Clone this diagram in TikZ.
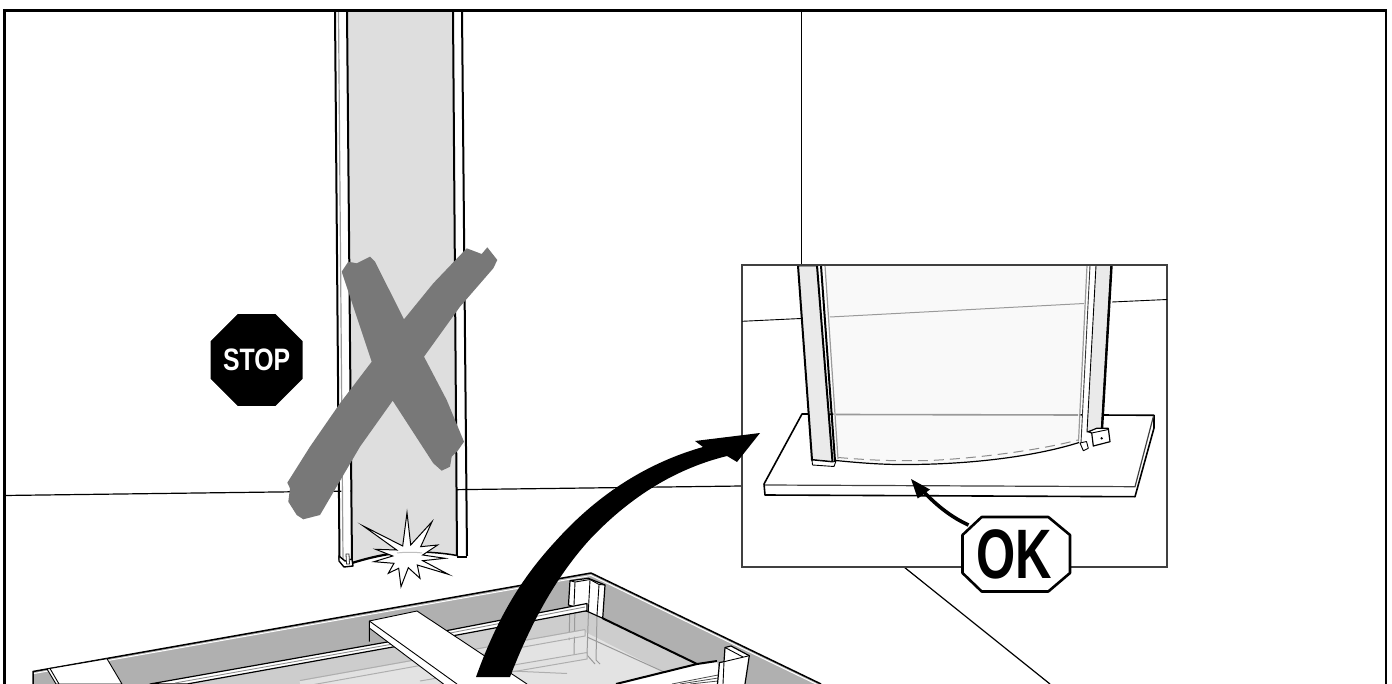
\documentclass[tikz,border=0pt]{standalone}
\usepackage{fontspec}
\setmainfont{Liberation Sans}
\usetikzlibrary{shapes.geometric}
\definecolor{tray}{HTML}{B0B0B0}
\definecolor{floorA}{HTML}{CDCDCD}
\definecolor{floorB}{HTML}{E3E3E3}
\definecolor{xgray}{HTML}{787878}
\definecolor{facegray}{HTML}{EAEAEA}
\definecolor{panelgray}{HTML}{F9F9F9}
\definecolor{linegray}{HTML}{9A9A9A}
\tikzset{
  ln/.style={draw=black,line width=1.2pt,line join=round},
  thk/.style={draw=black,line width=2pt,line join=round},
  fine/.style={draw=black,line width=.9pt,line join=round},
  ghost/.style={draw=linegray,line width=1pt},
  glassrail/.style={draw=floorA!60!white,line width=4.5pt},
  glassedge/.style={draw=linegray!80!white,line width=1pt},
  octagon/.style={regular polygon,regular polygon sides=8,inner sep=0pt,outer sep=0pt},
}
\begin{document}
\begin{tikzpicture}[x=1pt,y=-1pt]
\useasboundingbox (0,0) rectangle (1392,684);
\fill[white] (0,0) rectangle (1392,684);
% room lines
\draw[ln] (4,495.5) -- (742,486);
\draw[fine] (801,10) -- (801,265);
\draw[ln] (904,567) -- (1050,684);
% column
\shade[left color=black!13,middle color=white,right color=black!13]
  (347,11) -- (453,11) -- (457,555) .. controls (430,551) and (395,550) .. (353,563) -- cycle;
\fill[white] (338,11) -- (346,11) -- (351,560) -- (342,562) -- cycle;
\draw[thk] (335,11) -- (339.5,560);
\draw[draw=linegray,line width=1.2pt] (338.5,11) -- (343,560);
\draw[thk] (347,11) -- (352,563);
\draw[thk] (453,11) -- (457,556);
\draw[thk] (462,11) -- (467,556);
\draw[thk] (457,556.5) -- (467,556.5);
\draw[line width=2.2pt] (352,563) .. controls (368,558) and (385,554) .. (402,552.5);
\draw[draw=black,line width=1.5pt] (422,552) .. controls (435,552.5) and (446,553.5) .. (457,555.5);
\filldraw[fill=white,draw=black,line width=1.4pt,line join=round] (339,556) -- (339,561) -- (344,567) -- (353,566) -- (352,559) -- (345,561) -- cycle;
\filldraw[fill=white,draw=black!80,line width=.8pt] (346,554) -- (349,554) -- (349.5,564) -- (346.5,564) -- cycle;
% impact star
\filldraw[fill=white,draw=black,line width=1pt,miter limit=20] (407,512.7) -- (410.7,545) -- (432,521.7) -- (420.7,546.7) -- (437.7,545) -- (422.7,555) -- (445,558.3) -- (422.7,560.7) -- (448.3,574.3) -- (417.3,565) -- (420,578.3) -- (408.3,567.7) -- (401,586.7) -- (398.7,568.3) -- (388.3,573.3) -- (394,563.3) -- (374,561.7) -- (392.7,556) -- (375.7,549.3) -- (396.7,550) -- (363.3,526) -- (402.7,546) -- cycle;
\draw[black!25,line width=1pt] (397,553) .. controls (405,552) and (415,552) .. (422,553);
% tray
\filldraw[fill=tray,draw=black,line width=1.5pt,line join=round] (33,684) -- (33,671.5) -- (591,573) -- (821,684);
\draw[white,line width=1pt] (34,673.5) -- (591,575.5) -- (817,684.5);
\filldraw[fill=white,fine] (47,669) -- (107,658.7) -- (122,684) -- (56,684) -- cycle;
\draw[fine] (50,668.5) -- (59,684);
% tray floor
\fill[floorA] (187,684) -- (393,647) -- (587,611) -- (697,664) -- (617,684) -- cycle;
\fill[floorB] (300,684) -- (585,632) -- (664,672) -- (617,684) -- cycle;
% views through the glass
\draw[ghost] (570,605) -- (569,640);
\draw[ghost] (575,605) -- (574,655);
\draw[ghost] (588.5,611) -- (587,655) -- (595,664);
\draw[ghost] (597,615) -- (596,660) -- (600,664);
\draw[ghost] (587,637) -- (664,672);
\draw[glassedge] (511,671) -- (567,673.5);
\draw[glassrail] (300,683.5) -- (585,632.5);
\draw[glassedge] (585,629.5) -- (585,636) -- (300,687);
\draw[glassedge] (300,680.5) -- (585,629.5);
\draw[glassrail] (420,684) -- (587,655.5);
\draw[glassedge] (420,681) -- (587,652.5) -- (587,659) -- (430,686);
% back post
\filldraw[fill=white,ln] (568.5,605) -- (570,580.7) -- (588.3,578.3) -- (605,585) -- (602.7,618.3) -- (588,611.7) -- cycle;
\draw[fine] (570,580.7) -- (575,582) -- (590,579.5) -- (599,584.5) -- (605,585);
\draw[fine] (575,582) -- (574,605);
\draw[fine] (590,580) -- (588.3,611.7);
\draw[fine] (599,585) -- (597,615);
% rails
\filldraw[fill=white,ln] (150,684) -- (393,641) -- (587,603.5) -- (587,610.7) -- (393,647) -- (187,684) -- cycle;
\draw[black!45,line width=.9pt] (175,683) -- (393,644) -- (585,607);
% floor edge
\draw[thk] (602.7,618.3) -- (697,664);
% front right board
\fill[white] (617,684) -- (697,664) -- (717,661) -- (722,684) -- cycle;
\draw[line width=2pt] (616,684) -- (697,664) -- (717,661);
\draw[black!70,line width=.8pt] (672,684) -- (718,675);
\draw[black!70,line width=.8pt] (680,684) -- (718,678);
\draw[black!70,line width=.8pt] (690,684) -- (718,681);
% front right post
\filldraw[fill=white,ln] (717.5,684) -- (719.5,662.5) -- (724,661.7) -- (725,647.5) -- (731,646) -- (749.3,655.7) -- (745,684);
\draw[fine] (724,661.7) -- (749.3,655.7);
\draw[fine] (724,661.7) -- (723,684);
\draw[fine] (725,647.5) -- (743,657);
% central board
\fill[white] (369.3,621) -- (417,611) -- (527,684) -- (443,684) -- (369.3,628) -- cycle;
\draw[fine] (369.3,641.5) -- (369.3,621) -- (417,611) -- (527,684);
\draw[fine] (369.3,621) -- (457,684);
\draw[fine] (369.3,628) -- (443.5,684);
% inset
\filldraw[fill=white,draw=black!75,line width=1.2pt] (742,265) rectangle (1167,567);
\draw[fine] (742,321.3) -- (801,318.5);
\draw[fine] (1112,302) -- (1167,299.5);
% shelf
\filldraw[fill=white,thk,line width=1.6pt] (802,414) -- (764,484) -- (765,495) -- (1135,496.7) -- (1154,428) -- (1154,415.3) -- (1100,415) -- cycle;
\draw[draw=black!75,line width=1.2pt] (765,485) -- (1135,486.7) -- (1153.5,416);
% panel
\fill[panelgray] (825,265.5) -- (1088,265.5) -- (1079,442.5) .. controls (1040,455) and (975,465) .. (900,464.5) .. controls (880,464) and (855,462) .. (836,460) -- cycle;
\draw[draw=linegray,line width=1pt] (830,317) -- (1084,303.5);
\draw[draw=linegray,line width=1.6pt] (836,414.5) -- (1078,415);
\draw[draw=black!45,line width=1pt,dash pattern=on 10pt off 6pt] (838,457.5) .. controls (880,461) and (900,461) .. (930,460.5) .. controls (980,458) and (1040,450) .. (1078,440);
\draw[ln] (836,460.5) .. controls (855,462.5) and (880,464.5) .. (900,464.5) .. controls (975,465) and (1040,455) .. (1079,442.5);
% left inset post
\filldraw[fill=facegray,thk] (798,265.5) -- (817,265.5) -- (832.5,462) -- (812,460) -- cycle;
\draw[thk] (821,265.5) -- (835,461);
\draw[draw=linegray,line width=1.2pt] (825,265.5) -- (838,459);
\draw[fine,fill=white] (812,460) -- (812.5,465) -- (834,466.5) -- (836,461) -- (832.5,462) -- cycle;
% right inset post
\fill[white] (1090,265.5) -- (1096,265.5) -- (1087,432) -- (1081,443) -- cycle;
\draw[draw=linegray,line width=1.2pt] (1087,265.5) -- (1078.5,441.5);
\draw[draw=black!80,line width=.9pt] (1090,265.5) -- (1081,443);
\filldraw[fill=facegray,fine] (1096,265.5) -- (1111,265.5) -- (1101.5,429) -- (1087,432) -- cycle;
\draw[line width=2.4pt] (1111.5,265.5) -- (1102,429);
\filldraw[fill=white,fine] (1080,443) -- (1083.3,450.7) -- (1088.3,448.3) -- (1086.5,441.5) -- cycle;
\filldraw[fill=white,ln] (1088.3,431.7) -- (1096.7,428.3) -- (1108.3,428.3) -- (1110,441.7) -- (1093.3,446) -- (1091.7,433) -- cycle;
\draw[fine] (1091.7,433) -- (1108.3,429.5);
\fill (1101.7,438.3) circle (1.3);
% inset box line on top of posts
\draw[draw=black!75,line width=1.2pt] (742,265) -- (1167,265);
% OK sign
\filldraw[fill=white,draw=black,line width=2.6pt,line join=round] (981.7,517) -- (1048.3,517) -- (1070,535) -- (1070,573) -- (1048.3,591.5) -- (981.7,591.5) -- (962.5,573) -- (962.5,535) -- cycle;
\node[inner sep=0pt,font=\bfseries\fontsize{70}{70}\selectfont] (ok) at (1014.5,554) {\scalebox{.72}[1]{OK}};
\coordinate (okstart) at (968.5,525);
\coordinate (oktip) at (911,479);
\draw[line width=3.6pt] (okstart) .. controls (953,518) and (938,507) .. (923,491);
\fill (oktip) -- (930,489.5) -- (917.7,498.5) -- cycle;
% STOP sign
\node[octagon,fill=black,minimum size=102.4pt] (stopbg) at (256.6,360) {};
\node[octagon,draw=white,line width=2.8pt,minimum size=91pt,text=white,font=\bfseries\fontsize{31}{31}\selectfont] (stop) at (256.6,360) {\scalebox{.8}[1]{STOP}};
% big X
\fill[xgray] (287.3,482.7) -- (310,446.7) -- (340,403.3) -- (371.7,361.7) -- (356.7,316.7) -- (341.7,271.7) -- (348.3,261.7) -- (356.7,263.3) -- (370,256.7) -- (375,261.7) -- (404,319.3) -- (433.3,283.3) -- (466.7,248.3) -- (478.3,252.7) -- (481.7,254) -- (487.3,247.3) -- (497.3,260) -- (493.3,268.3) -- (460,306.7) -- (424,356.7) -- (446.7,400) -- (464,441.7) -- (458.3,450) -- (451.7,456.7) -- (450,466.7) -- (441.7,470.7) -- (433.3,463.3) -- (392.7,400.7) -- (360,446.7) -- (320,515) -- (303.3,519.3) -- (296.7,515) -- (288.3,501.7) -- (290,488.3) -- cycle;
% big arrow
\coordinate (bigtip) at (760,433);
\fill (476,677) .. controls (500,610) and (527,572) .. (556.7,540) .. controls (600,492) and (650,462) .. (703,447) -- (695,441) -- (bigtip) -- (737,462) -- (727,456) .. controls (670,470) and (625,502) .. (589.3,540) .. controls (555,578) and (530,625) .. (510,677) -- cycle;
% frame
\draw[black,line width=2.6pt,line join=miter] (4.5,684) -- (4.5,10.5) -- (1386,10.5) -- (1386,684);
\end{tikzpicture}
\end{document}
